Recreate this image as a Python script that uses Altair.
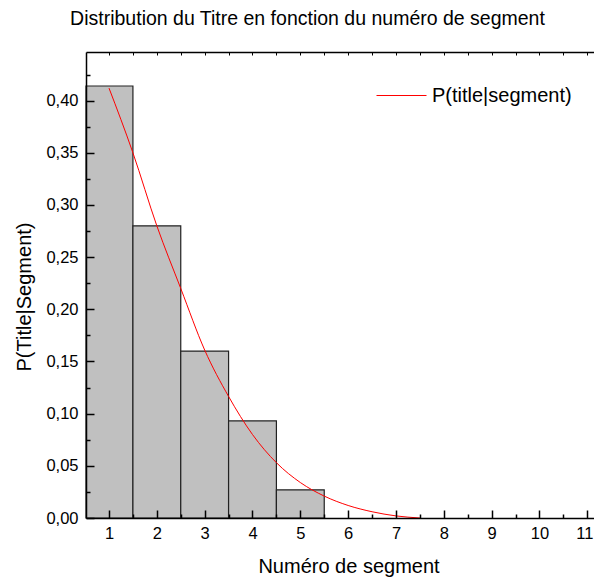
import altair as alt
import pandas as pd

# ---- data ----
segments = [1, 2, 3, 4, 5]
p_title = [0.414, 0.280, 0.160, 0.093, 0.027]

curve_x = [1, 1.5, 2, 2.5, 3, 3.5, 4, 4.5, 5, 5.5, 6, 6.5, 7, 7.5]
curve_y = [0.412, 0.350, 0.280, 0.220, 0.161, 0.1165, 0.080, 0.053,
           0.034, 0.021, 0.012, 0.006, 0.002, 0.0]
series_name = "P(title|segment)"

x_major = [1, 2, 3, 4, 5, 6, 7, 8, 9, 10, 11]
x_minor = [1.5, 2.5, 3.5, 4.5, 5.5, 6.5, 7.5, 8.5, 9.5, 10.5]
x_top = [1, 1.5, 2, 2.5, 3, 3.5, 4, 4.5, 5, 5.5, 6, 6.5, 7, 7.5,
         8, 8.5, 9, 9.5, 10, 10.5, 11]
y_major = [0.0, 0.05, 0.10, 0.15, 0.20, 0.25, 0.30, 0.35, 0.40]
y_minor = [0.025, 0.075, 0.125, 0.175, 0.225, 0.275, 0.325, 0.375, 0.425]

W, H = 508, 466
FONT = "Liberation Sans"

bars_df = pd.DataFrame({"seg": segments, "p": p_title})
curve_df = pd.DataFrame({"xc": curve_x, "pc": curve_y,
                         "series": [series_name] * len(curve_x)})

xscale = alt.Scale(domain=[0.519, 11.14], nice=False, zero=False)
yscale = alt.Scale(domain=[0, 0.4466], nice=False, zero=False)

# bars with bottom/left labelled axes
bars = alt.Chart(bars_df).transform_calculate(
    x0="max(datum.seg - 0.5, 0.519)", x1="datum.seg + 0.5"
).mark_bar(fill="#c0c0c0", stroke="#222222", strokeWidth=1.2).encode(
    x=alt.X("x0:Q", scale=xscale, axis=alt.Axis(
        orient="bottom", values=x_major, format="d", ticks=False,
        domain=True, domainColor="black", domainWidth=1.5, grid=False,
        labelFont=FONT, labelFontSize=16.5, labelColor="black", labelPadding=7,
        labelFlush=False,
        labelOffset={"condition": {"test": "datum.value == 11", "value": -3}, "value": 0},
        title="Numéro de segment", titleFont=FONT,
        titleFontSize=20, titleFontWeight="normal", titleColor="black",
        titleX=262.5, titleY=54, titleBaseline="alphabetic", zindex=1)),
    x2="x1:Q",
    y=alt.Y("p:Q", scale=yscale, axis=alt.Axis(
        orient="left", values=y_major,
        labelExpr="replace(format(datum.value, '.2f'), '.', ',')",
        ticks=False, domain=True, domainColor="black", domainWidth=1.5,
        grid=False, labelFont=FONT, labelFontSize=16.5, labelColor="black",
        labelPadding=8, labelFlush=False, title="P(Title|Segment)",
        titleFont=FONT, titleFontSize=20, titleFontWeight="normal",
        titleColor="black", titleX=-62, titleY=244.5, titleBaseline="middle",
        zindex=1)),
    y2=alt.datum(0),
)

# red curve, with inward major ticks (bottom and left)
line = alt.Chart(curve_df).mark_line(strokeWidth=1, interpolate="monotone").encode(
    x=alt.X("xc:Q", scale=xscale, axis=alt.Axis(
        orient="top", offset=-H, values=x_major, ticks=True, tickSize=8,
        tickColor="black", tickWidth=1.5, labels=False, domain=False,
        grid=False, title=None, zindex=1)),
    y=alt.Y("pc:Q", scale=yscale, axis=alt.Axis(
        orient="right", offset=-W, values=y_major, ticks=True, tickSize=8,
        tickColor="black", tickWidth=1.5, labels=False, domain=False,
        grid=False, title=None, zindex=1)),
    color=alt.Color("series:N", scale=alt.Scale(domain=[series_name], range=["#ff0000"]),
                    legend=alt.Legend(orient="none", legendX=290, legendY=18,
                                      title=None, symbolType="stroke",
                                      symbolSize=2500, symbolStrokeWidth=1,
                                      labelFont=FONT, labelFontSize=20,
                                      labelColor="black", labelOffset=5,
                                      padding=0)),
)

# invisible layer carrying inward minor ticks
minor = alt.Chart(curve_df).mark_point(opacity=0).encode(
    x=alt.X("xc:Q", scale=xscale, axis=alt.Axis(
        orient="top", offset=-H, values=x_minor, ticks=True, tickSize=4,
        tickColor="black", tickWidth=1.5, labels=False, domain=False,
        grid=False, title=None, zindex=1)),
    y=alt.Y("pc:Q", scale=yscale, axis=alt.Axis(
        orient="right", offset=-W, values=y_minor, ticks=True, tickSize=4,
        tickColor="black", tickWidth=1.5, labels=False, domain=False,
        grid=False, title=None, zindex=1)),
)

# invisible layer carrying the top frame line
top = alt.Chart(curve_df).mark_point(opacity=0).encode(
    x=alt.X("xc:Q", scale=xscale, axis=alt.Axis(
        orient="bottom", offset=-H, values=x_top, ticks=True, tickSize=3,
        tickColor="black", tickWidth=1, labels=False, domain=True,
        domainColor="black", domainWidth=1.5, grid=False, title=None,
        zindex=1)),
    y=alt.Y("pc:Q", scale=yscale, axis=None),
)

chart = alt.layer(bars, line, minor, top).resolve_axis(
    x="independent", y="independent"
).properties(
    width=W, height=H,
    title=alt.TitleParams(
        text="Distribution du Titre en fonction du numéro de segment",
        font=FONT, fontSize=19.5, fontWeight="normal", color="black",
        anchor="middle", frame="group", dx=-32.5, offset=7,
        baseline="alphabetic"),
    autosize=alt.AutoSizeParams(type="none"),
    padding={"left": 78, "top": 44, "right": 0, "bottom": 60},
    background="white",
).configure_view(stroke=None)

chart.save("out.html", embed_options={"renderer": "svg", "actions": False})
